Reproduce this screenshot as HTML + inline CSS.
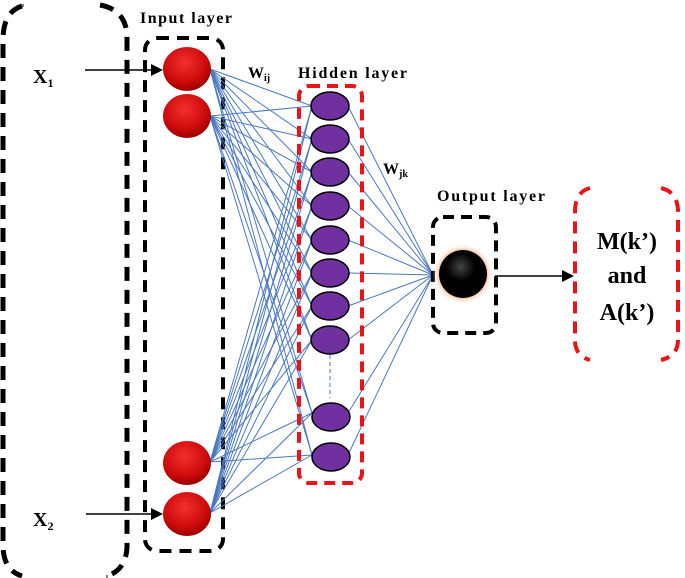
<!DOCTYPE html>
<html><head><meta charset="utf-8"><style>
html,body{margin:0;padding:0;background:#fff;}
svg{display:block;}
text{font-family:"Liberation Serif",serif;font-weight:bold;fill:#000;}
</style></head><body>
<svg width="685" height="578" viewBox="0 0 685 578" xmlns="http://www.w3.org/2000/svg">
<defs>
<radialGradient id="red" cx="45%" cy="35%" r="65%">
<stop offset="0" stop-color="#f23030"/><stop offset="0.7" stop-color="#cc0a0a"/><stop offset="1" stop-color="#9a0000"/>
</radialGradient>
<radialGradient id="blk" cx="45%" cy="35%" r="60%">
<stop offset="0" stop-color="#444"/><stop offset="0.5" stop-color="#000"/><stop offset="1" stop-color="#000"/>
</radialGradient>
<radialGradient id="glow" cx="50%" cy="50%" r="50%">
<stop offset="0.7" stop-color="#f4a070"/><stop offset="1" stop-color="#fff" stop-opacity="0"/>
</radialGradient>
</defs>
<g fill="none" stroke="#000" stroke-width="5" stroke-dasharray="14,9">
<path d="M22,6 Q3,12 3,40 L3,545 Q3,570 22,576"/>
<path d="M100,5 Q127,10 127,38 L127,545 Q127,566 112,574"/>
</g>
<path d="M23,4 L23,7 M107,575 L107,578" stroke="#000" stroke-width="1"/>
<rect x="145" y="38" width="78" height="513" rx="12" fill="none" stroke="#000" stroke-width="4" stroke-dasharray="12,8"/>
<g stroke="#4a78c2" stroke-width="1" id="conns"></g>
<script>
(function(){
var g=document.getElementById('conns');var ns='http://www.w3.org/2000/svg';
var ins=[69,116,462,513];var hs=[106,139,172,206,240,273,306,340,413,455];
ins.forEach(function(a){hs.forEach(function(b){var l=document.createElementNS(ns,'line');l.setAttribute('x1',210);l.setAttribute('y1',a);l.setAttribute('x2',312);l.setAttribute('y2',b);g.appendChild(l);});});
hs.forEach(function(b){var l=document.createElementNS(ns,'line');l.setAttribute('x1',348);l.setAttribute('y1',b);l.setAttribute('x2',433);l.setAttribute('y2',275);g.appendChild(l);});
})();
</script>
<rect x="299" y="86" width="63" height="397" rx="10" fill="none" stroke="#e8141a" stroke-width="4" stroke-dasharray="11,7"/>
<line x1="330" y1="355" x2="330" y2="398" stroke="#4a78c2" stroke-dasharray="4,3"/>
<g fill="#7030a0" stroke="#000" stroke-width="1.5">
<ellipse cx="330" cy="106" rx="19" ry="14"/><ellipse cx="330" cy="139" rx="19" ry="14"/>
<ellipse cx="330" cy="172" rx="19" ry="14"/><ellipse cx="330" cy="206" rx="19" ry="14"/>
<ellipse cx="330" cy="240" rx="19" ry="14"/><ellipse cx="330" cy="273" rx="19" ry="14"/>
<ellipse cx="330" cy="306" rx="19" ry="14"/><ellipse cx="330" cy="340" rx="19" ry="14"/>
<ellipse cx="331" cy="417" rx="19" ry="14"/><ellipse cx="331" cy="457" rx="19" ry="14"/>
</g>
<g fill="url(#red)">
<ellipse cx="187" cy="69" rx="24" ry="22"/><ellipse cx="187" cy="116" rx="24" ry="22"/>
<ellipse cx="187" cy="463" rx="24" ry="22"/><ellipse cx="187" cy="514" rx="24" ry="22"/>
</g>
<g stroke="#000" stroke-width="1.5">
<line x1="85" y1="70" x2="155" y2="70"/><line x1="86" y1="514" x2="155" y2="514"/>
<line x1="495" y1="276" x2="565" y2="276"/>
</g>
<g fill="#000">
<polygon points="163,70 151,64 151,76"/><polygon points="163,514 151,508 151,520"/>
<polygon points="574,276 562,270 562,282"/>
</g>
<rect x="433" y="217" width="63" height="116" rx="10" fill="none" stroke="#000" stroke-width="4" stroke-dasharray="11,7"/>
<circle cx="463" cy="274" r="31" fill="url(#glow)"/>
<circle cx="463" cy="274" r="24" fill="url(#blk)"/>
<g fill="none" stroke="#e8141a" stroke-width="4" stroke-dasharray="12,8">
<path d="M590,188 Q575,192 575,212 L575,340 Q575,356 590,360"/>
<path d="M661,188 Q678,192 678,212 L678,340 Q678,356 661,360"/>
</g>
<text x="140" y="23" font-size="16" textLength="92" lengthAdjust="spacing">Input layer</text>
<text x="248" y="78" font-size="16">W<tspan font-size="10" dy="3">ij</tspan></text>
<text x="298" y="78" font-size="16" textLength="109" lengthAdjust="spacing">Hidden layer</text>
<text x="383" y="174" font-size="16">W<tspan font-size="10" dy="3">jk</tspan></text>
<text x="437" y="201" font-size="16" textLength="108" lengthAdjust="spacing">Output layer</text>
<text x="33" y="83" font-size="20">X<tspan font-size="12" dy="4">1</tspan></text>
<text x="33" y="526" font-size="20">X<tspan font-size="12" dy="4">2</tspan></text>
<text x="627" y="249" font-size="24" text-anchor="middle">M(k’)</text>
<text x="627" y="283" font-size="24" text-anchor="middle">and</text>
<text x="627" y="320" font-size="24" text-anchor="middle">A(k’)</text>
</svg>
</body></html>
